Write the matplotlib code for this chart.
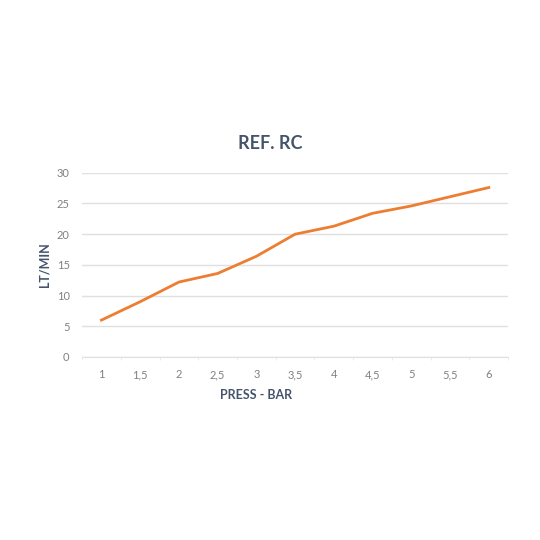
import matplotlib.pyplot as plt
import numpy as np

# Данные
press = ['1', '1,5', '2', '2,5', '3', '3,5', '4', '4,5', '5', '5,5', '6']
flow = [6.0, 9.0, 12.2, 13.6, 16.4, 20.0, 21.3, 23.4, 24.6, 26.1, 27.6]

plt.rcParams['font.family'] = ['Lato', 'DejaVu Sans']

fig = plt.figure(figsize=(5.4, 5.4), dpi=100)
ax = fig.add_axes([0.152, 0.339, 0.789, 0.341])

x = np.arange(len(press))
ax.plot(x, flow, color='#ED7D31', linewidth=2.0, solid_joinstyle='round')

ax.set_xlim(-0.5, len(press) - 0.5)
ax.set_ylim(0, 30)
ax.set_yticks(range(0, 31, 5))
ax.set_xticks(x)
ax.set_xticklabels(press)
ax.set_xticks(np.arange(-0.5, len(press), 1), minor=True)

ax.grid(axis='y', color='#e0e0e0', linewidth=1)
ax.set_axisbelow(True)
for s in ['top', 'right', 'left']:
    ax.spines[s].set_visible(False)
ax.spines['bottom'].set_color('#e0e0e0')
ax.tick_params(axis='both', which='major', length=0, labelsize=8, colors='#808080', pad=9)
ax.tick_params(axis='x', which='minor', length=2, color='#e8e8e8')

# Заголовок и подписи осей
fig.text(0.5, 0.735, 'REF. RC', ha='center', va='center', fontsize=13,
         fontweight='bold', color='#44546A')
fig.text(256 / 540, 1 - 395 / 540, 'PRESS - BAR', ha='center', va='center',
         fontsize=9, fontweight='bold', color='#44546A')
fig.text(44 / 540, 1 - 265 / 540, 'LT/MIN', ha='center', va='center', rotation=90,
         fontsize=9, fontweight='bold', color='#44546A')

plt.savefig('out.png', dpi=100)
